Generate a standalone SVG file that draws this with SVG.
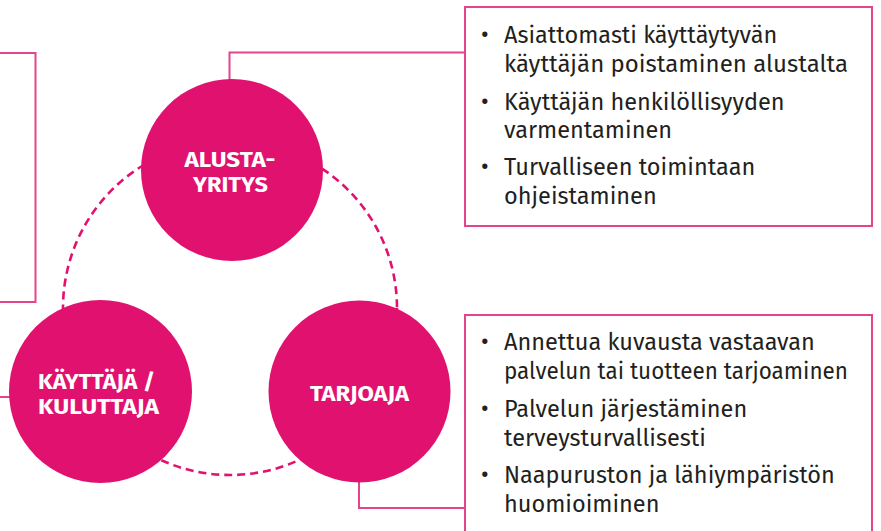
<svg xmlns="http://www.w3.org/2000/svg" width="881" height="531" viewBox="0 0 881 531">
<style>
.node{fill:#e1116f}
.lbl{fill:#fff;font-family:"Fira Sans","Liberation Sans",Arial,sans-serif;font-weight:bold;font-size:22px;text-anchor:middle}
.box{fill:#fff;stroke:#e5438c;stroke-width:2}
.conn{fill:none;stroke:#e5438c;stroke-width:2}
.dash{fill:none;stroke:#e1116f;stroke-width:2.6;stroke-dasharray:8 5}
.txt{fill:#231f20;font-family:"Fira Sans","Open Sans","Noto Sans",sans-serif;font-size:23.5px}
</style>
<rect width="881" height="531" fill="#fff"/>
<g id="connectors">
<circle class="dash" cx="230" cy="308" r="167"/>
<polyline class="conn" points="-2,53 35.5,53 35.5,302 -2,302"/>
<polyline class="conn" points="229.5,80 229.5,52.5 465,52.5"/>
<line class="conn" x1="-2" y1="397" x2="10" y2="397"/>
<polyline class="conn" points="359,482 359,508 465,508"/>
</g>
<g id="box-alusta">
<rect class="box" x="465" y="7" width="407" height="219"/>
<text class="txt" x="481" y="43">•</text>
<text class="txt" x="504" y="43">Asiattomasti käyttäytyvän</text>
<text class="txt" x="504" y="72" textLength="344" lengthAdjust="spacingAndGlyphs">käyttäjän poistaminen alustalta</text>
<text class="txt" x="481" y="109.5">•</text>
<text class="txt" x="504" y="109.5">Käyttäjän henkilöllisyyden</text>
<text class="txt" x="504" y="138">varmentaminen</text>
<text class="txt" x="481" y="175">•</text>
<text class="txt" x="504" y="175">Turvalliseen toimintaan</text>
<text class="txt" x="504" y="203.5">ohjeistaminen</text>
</g>
<g id="box-tarjoaja">
<rect class="box" x="465" y="315" width="407" height="230"/>
<text class="txt" x="481" y="350">•</text>
<text class="txt" x="504" y="350">Annettua kuvausta vastaavan</text>
<text class="txt" x="504" y="379" textLength="344" lengthAdjust="spacingAndGlyphs">palvelun tai tuotteen tarjoaminen</text>
<text class="txt" x="481" y="416.5">•</text>
<text class="txt" x="504" y="416.5">Palvelun järjestäminen</text>
<text class="txt" x="504" y="445.5">terveysturvallisesti</text>
<text class="txt" x="481" y="482.5">•</text>
<text class="txt" x="504" y="482.5">Naapuruston ja lähiympäristön</text>
<text class="txt" x="504" y="511.5">huomioiminen</text>
</g>
<g id="node-alustayritys">
<circle class="node" cx="232" cy="170" r="91"/>
<text class="lbl" x="230" y="167" textLength="91" lengthAdjust="spacingAndGlyphs">ALUSTA-</text>
<text class="lbl" x="230.5" y="192" textLength="75" lengthAdjust="spacingAndGlyphs">YRITYS</text>
</g>
<g id="node-kayttaja">
<circle class="node" cx="100.5" cy="391.5" r="91.5"/>
<text class="lbl" x="96.5" y="388.5" textLength="117" lengthAdjust="spacingAndGlyphs">KÄYTTÄJÄ /</text>
<text class="lbl" x="98.5" y="413.5" textLength="121" lengthAdjust="spacingAndGlyphs">KULUTTAJA</text>
</g>
<g id="node-tarjoaja">
<circle class="node" cx="359.5" cy="391.5" r="91"/>
<text class="lbl" x="359.5" y="401" textLength="99" lengthAdjust="spacingAndGlyphs">TARJOAJA</text>
</g>
</svg>
